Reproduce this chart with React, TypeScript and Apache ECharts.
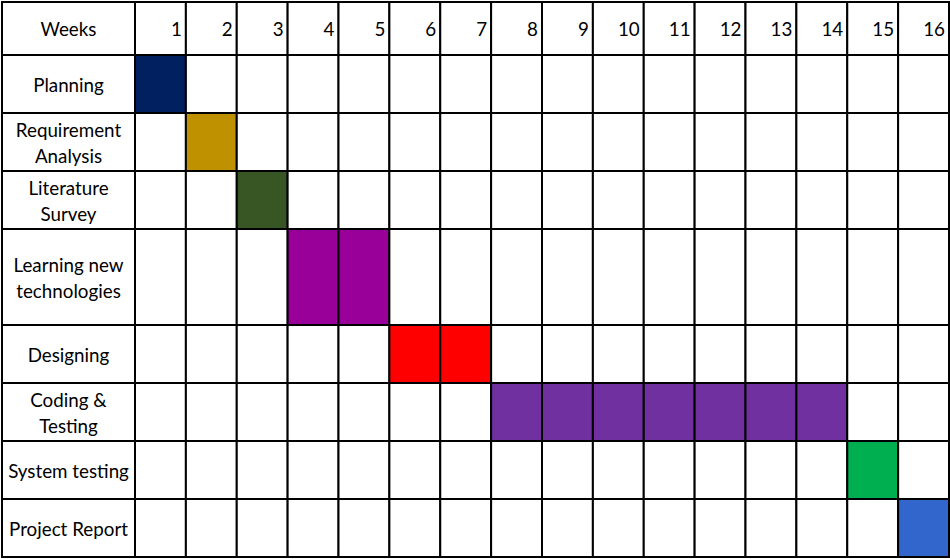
import React, { useEffect, useRef } from "react";
import * as echarts from "echarts";

// ---- data ----
const headerLabel = "Weeks";
const weekLabels = ["1", "2", "3", "4", "5", "6", "7", "8", "9", "10", "11", "12", "13", "14", "15", "16"];
const tasks = [
  "Planning",
  "Requirement\nAnalysis",
  "Literature\nSurvey",
  "Learning new\ntechnologies",
  "Designing",
  "Coding &\nTesting",
  "System testing",
  "Project Report",
];
const startWeeks = [1, 2, 3, 4, 6, 8, 15, 16];
const endWeeks = [1, 2, 3, 5, 7, 14, 15, 16];
const taskColors = ["#002060", "#BF9000", "#375623", "#990099", "#FF0000", "#7030A0", "#00B050", "#3366CC"];

// ---- layout (not data) ----
const rowHeights = [1, 1, 1, 96 / 58, 1, 1, 1, 1];
const rowStart: number[] = [];
rowHeights.reduce((acc, h, i) => {
  rowStart[i] = acc;
  return acc + h;
}, 0);
const totalRows = rowHeights.reduce((a, b) => a + b, 0);
const LABEL_W = 133;
const HEADER_H = 53;
const FONT = '18.8px Lato, "Open Sans", sans-serif';
const LINE = { stroke: "#000", lineWidth: 2 };

export default function App() {
  const ref = useRef<HTMLDivElement>(null);

  useEffect(() => {
    if (!ref.current) return;
    const chart = echarts.init(ref.current, null, { renderer: "svg" });

    const cellData: number[][] = [];
    tasks.forEach((_, r) => {
      weekLabels.forEach((_, wi) => {
        const w = wi + 1;
        const active = w >= startWeeks[r] && w <= endWeeks[r] ? 1 : 0;
        cellData.push([w, r, active]);
      });
    });

    const option: any = {
      animation: false,
      backgroundColor: "#fff",
      grid: { left: 135, right: 1, top: 55, bottom: 2 },
      xAxis: { type: "value", min: 0, max: weekLabels.length, show: false },
      yAxis: { type: "value", min: 0, max: totalRows, inverse: true, show: false },
      series: [
        {
          type: "custom",
          data: cellData,
          clip: false,
          renderItem: (_p: any, api: any) => {
            const w = api.value(0);
            const r = api.value(1);
            const active = api.value(2);
            const p0 = api.coord([w - 1, rowStart[r]]);
            const p1 = api.coord([w, rowStart[r] + rowHeights[r]]);
            return {
              type: "rect",
              shape: { x: p0[0], y: p0[1], width: p1[0] - p0[0], height: p1[1] - p0[1] },
              style: { fill: active ? taskColors[r] : "#fff", ...LINE },
            };
          },
        },
        {
          type: "custom",
          data: tasks.map((_, r) => [0, r]),
          clip: false,
          renderItem: (_p: any, api: any) => {
            const r = api.value(1);
            const p0 = api.coord([0, rowStart[r]]);
            const p1 = api.coord([0, rowStart[r] + rowHeights[r]]);
            const x0 = p0[0] - LABEL_W;
            return {
              type: "group",
              children: [
                {
                  type: "rect",
                  shape: { x: x0, y: p0[1], width: LABEL_W, height: p1[1] - p0[1] },
                  style: { fill: "#fff", ...LINE },
                },
                {
                  type: "text",
                  x: x0 + LABEL_W / 2,
                  y: (p0[1] + p1[1]) / 2,
                  style: {
                    text: tasks[r],
                    fill: "#000",
                    font: FONT,
                    align: "center",
                    verticalAlign: "middle",
                    lineHeight: 26,
                  },
                },
              ],
            };
          },
        },
        {
          type: "custom",
          data: [[0, -1]].concat(weekLabels.map((_, i) => [i + 1, i])),
          clip: false,
          renderItem: (_p: any, api: any) => {
            const w = api.value(0);
            const top = api.coord([0, 0])[1];
            if (w === 0) {
              const x1 = api.coord([0, 0])[0];
              const x0 = x1 - LABEL_W;
              return {
                type: "group",
                children: [
                  {
                    type: "rect",
                    shape: { x: x0, y: top - HEADER_H, width: LABEL_W, height: HEADER_H },
                    style: { fill: "#fff", ...LINE },
                  },
                  {
                    type: "text",
                    x: x0 + LABEL_W / 2,
                    y: top - HEADER_H / 2,
                    style: { text: headerLabel, fill: "#000", font: FONT, align: "center", verticalAlign: "middle" },
                  },
                ],
              };
            }
            const xa = api.coord([w - 1, 0])[0];
            const xb = api.coord([w, 0])[0];
            return {
              type: "group",
              children: [
                {
                  type: "rect",
                  shape: { x: xa, y: top - HEADER_H, width: xb - xa, height: HEADER_H },
                  style: { fill: "#fff", ...LINE },
                },
                {
                  type: "text",
                  x: xb - 4,
                  y: top - HEADER_H / 2,
                  style: { text: weekLabels[w - 1], fill: "#000", font: FONT, align: "right", verticalAlign: "middle" },
                },
              ],
            };
          },
        },
      ],
    };

    chart.setOption(option);
    return () => chart.dispose();
  }, []);

  return (
    <div
      ref={ref}
      style={{ position: "fixed", left: 0, top: 0, width: 950, height: 559, background: "#fff" }}
    />
  );
}
